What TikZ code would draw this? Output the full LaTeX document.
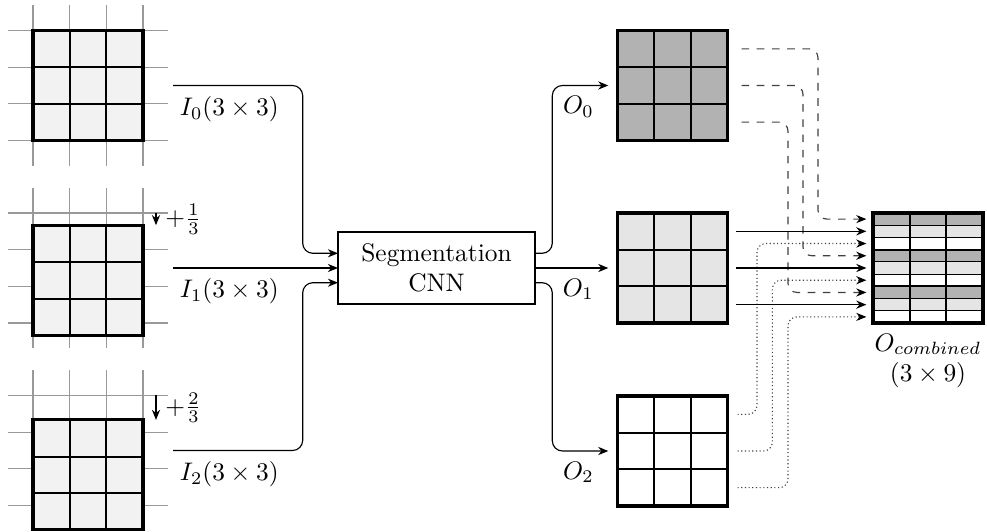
\documentclass[tikz,border=0pt]{standalone}
\usetikzlibrary{calc,arrows.meta}

% one tile: 3x3 cells with a heavy frame
\newcommand\tilecells[1]{%
  \foreach \f in {1/3,2/3} {
    \draw[cellline] ($(#1.north west)!\f!(#1.north east)$) -- ($(#1.south west)!\f!(#1.south east)$);
    \draw[cellline] ($(#1.north west)!\f!(#1.south west)$) -- ($(#1.north east)!\f!(#1.south east)$);
  }
  \draw[frame] (#1.north west) rectangle (#1.south east);
}

% the pixel lattice behind an input tile
\newcommand\lattice[1]{%
  \foreach \f in {0,1/3,2/3,1} {
    \draw[sheetline] ($(#1.north west)!\f!(#1.north east)+(0,-25)$) -- ($(#1.south west)!\f!(#1.south east)+(0,25)$);
    \draw[sheetline] ($(#1.north west)!\f!(#1.south west)+(-25,0)$) -- ($(#1.north east)!\f!(#1.south east)+(25,0)$);
  }
}

\tikzset{
  sheet/.style={inner sep=0pt, outer sep=0pt, minimum width=43.31pt, minimum height=43.31pt},
  sheetline/.style={black!40, line width=0.45pt},
  cellline/.style={line width=0.8pt},
  rowline/.style={line width=0.45pt},
  frame/.style={line width=1.2pt},
  link/.style={line width=0.45pt, rounded corners=4pt},
  tip/.style={-{Stealth[length=4pt,width=3.2pt,inset=1.3pt,color=black]}},
  dashlink/.style={link, black!75, dashed, rounded corners=3.5pt},
  dotlink/.style={link, black!75, densely dotted, rounded corners=3.5pt},
  ilabel/.style={anchor=north west, inner xsep=2.5pt, inner ysep=4pt},
  olabel/.style={anchor=north west, inner sep=4pt},
  shiftlabel/.style={anchor=west, inner xsep=3.5pt, inner ysep=0pt},
  cnnbox/.style={draw, line width=0.8pt, inner sep=0pt, outer sep=0pt,
    minimum width=77.56pt, minimum height=28.35pt, align=center},
}

\begin{document}
\begin{tikzpicture}[x=0.3937pt, y=-0.3937pt]
\useasboundingbox (0,0) rectangle (987,532);

% ---------- inputs ----------
\node[sheet] (g0) at (88,85.5) {};
\node[sheet] (g1) at (88,268) {};
\node[sheet] (g2) at (88,450.5) {};
\lattice{g0}
\lattice{g1}
\lattice{g2}

\node[sheet, fill=black!5] (i0) at (g0) {};
\node[sheet, fill=black!5] (i1) at ($(g1)+(0,12.22)$) {};
\node[sheet, fill=black!5] (i2) at ($(g2)+(0,24.44)$) {};
\tilecells{i0}
\tilecells{i1}
\tilecells{i2}

\draw[line width=0.45pt, tip] ($(g1.north east)+(13,0)$) -- ($(i1.north east)+(13,0)$)
  node[midway, shiftlabel] (s1) {$+\frac{1}{3}$};
\draw[line width=0.45pt, tip] ($(g2.north east)+(13,0)$) -- ($(i2.north east)+(13,0)$)
  node[midway, shiftlabel] (s2) {$+\frac{2}{3}$};

% ---------- network ----------
\node[cnnbox] (cnn) at (436.5,268) {Segmentation\\CNN};
\coordinate (inA) at ($(cnn.west)+(0,-14.7)$);
\coordinate (inC) at ($(cnn.west)+(0,14.7)$);
\coordinate (outA) at ($(cnn.east)+(0,-14.7)$);
\coordinate (outC) at ($(cnn.east)+(0,14.7)$);
\coordinate (busL) at (302.7,268);
\coordinate (busR) at (552.3,268);

\draw[link, tip] ($(g0.east)+(30,0)$) node[ilabel] (l0) {$I_0(3\times 3)$} -| (busL |- inA) -- (inA);
\draw[link, tip] ($(g1.east)+(30,0)$) node[ilabel] (l1) {$I_1(3\times 3)$} -- (cnn.west);
\draw[link, tip] ($(g2.east)+(30,0)$) node[ilabel] (l2) {$I_2(3\times 3)$} -| (busL |- inC) -- (inC);

% ---------- outputs ----------
\node[sheet, fill=black!30] (o0) at (672.5,85.5) {};
\node[sheet, fill=black!10] (o1) at (672.5,268) {};
\node[sheet, fill=white] (o2) at (672.5,451) {};
\tilecells{o0}
\tilecells{o1}
\tilecells{o2}

\draw[link, tip, shorten >=3.6pt] (outA) -| (busR |- o0) node[olabel] (m0) {$O_0$} -- (o0.west);
\draw[link, tip, shorten >=3.6pt] (cnn.east) -- (o1.west);
\node[olabel] (m1) at (busR |- o1) {$O_1$};
\draw[link, tip, shorten >=3.6pt] (outC) -| (busR |- o2) node[olabel] (m2) {$O_2$} -- (o2.west);

% ---------- combined output ----------
\node[sheet] (comb) at (928,268) {};
\foreach \a/\b/\c in {0/1/black!30, 1/2/black!10, 2/3/white,
                      3/4/black!30, 4/5/black!10, 5/6/white,
                      6/7/black!30, 7/8/black!10, 8/9/white} {
  \fill[\c] ($(comb.north west)!\a/9!(comb.south west)$) rectangle ($(comb.north east)!\b/9!(comb.south east)$);
}
\foreach \k in {1,2,4,5,7,8} {
  \draw[rowline] ($(comb.north west)!\k/9!(comb.south west)$) -- ($(comb.north east)!\k/9!(comb.south east)$);
}
\foreach \k in {3,6} {
  \draw[cellline] ($(comb.north west)!\k/9!(comb.south west)$) -- ($(comb.north east)!\k/9!(comb.south east)$);
}
\foreach \f in {1/3,2/3} {
  \draw[cellline] ($(comb.north west)!\f!(comb.north east)$) -- ($(comb.south west)!\f!(comb.south east)$);
}
\draw[frame] (comb.north west) rectangle (comb.south east);
\node[anchor=north, align=center, inner sep=4pt] (combl) at (comb.south) {$O_{combined}$\\$(3\times 9)$};

\foreach \k in {0,...,8} {
  \pgfmathsetmacro\ff{(\k+0.5)/9}
  \coordinate (r\k) at ($(comb.north west)!\ff!(comb.south west)$);
}

% rows of O_0 (dashed)
\draw[dashlink, tip, shorten >=2.6pt] ($(o0.north east)!1/6!(o0.south east)+(14,0)$) -| ($(r0)+(-55,0)$) -- (r0);
\draw[dashlink, tip, shorten >=2.6pt] ($(o0.north east)!1/2!(o0.south east)+(14,0)$) -| ($(r3)+(-70,0)$) -- (r3);
\draw[dashlink, tip, shorten >=2.6pt] ($(o0.north east)!5/6!(o0.south east)+(14,0)$) -| ($(r6)+(-85,0)$) -- (r6);

% rows of O_2 (dotted)
\draw[dotlink, tip, shorten >=2.6pt] ($(o2.north east)!1/6!(o2.south east)+(10,0)$) -| ($(r2)+(-116,0)$) -- (r2);
\draw[dotlink, tip, shorten >=2.6pt] ($(o2.north east)!1/2!(o2.south east)+(10,0)$) -| ($(r5)+(-100.6,0)$) -- (r5);
\draw[dotlink, tip, shorten >=2.6pt] ($(o2.north east)!5/6!(o2.south east)+(10,0)$) -| ($(r8)+(-85,0)$) -- (r8);

% rows of O_1 (solid)
\draw[link, tip, shorten >=2.6pt] ($(o1.east |- r1)+(8.3,0)$) -- (r1);
\draw[link, tip, shorten >=2.6pt] ($(o1.east |- r4)+(8.3,0)$) -- (r4);
\draw[link, tip, shorten >=2.6pt] ($(o1.east |- r7)+(8.3,0)$) -- (r7);

\end{tikzpicture}
\end{document}
